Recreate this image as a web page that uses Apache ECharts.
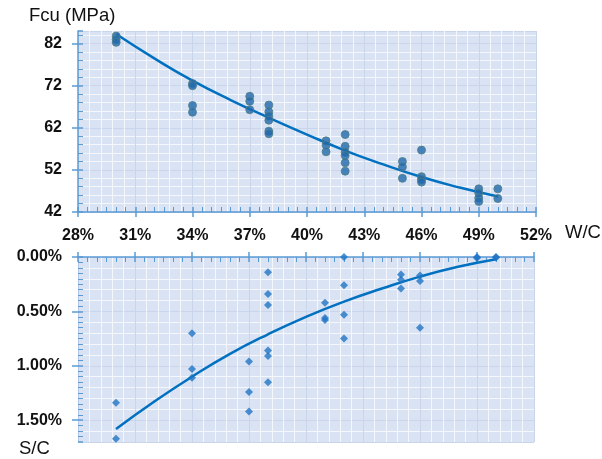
<!DOCTYPE html>
<html><head><meta charset="utf-8">
<script src="https://cdn.jsdelivr.net/npm/echarts@6/dist/echarts.min.js"></script>
<style>html,body{margin:0;padding:0;background:#fff}#c{width:602px;height:459px}</style>
</head><body><div id="c"></div>
<script>
// W/C ratio (%) tick labels
const xTicks = [28, 31, 34, 37, 40, 43, 46, 49, 52];
const fcuTicks = [42, 52, 62, 72, 82];
const scTicks = [0, 0.5, 1.0, 1.5];

// Top: compressive strength Fcu (MPa) vs W/C (%)
const fcuPoints = [
  [30, 83.8], [30, 83.0], [30, 82.3],
  [34, 72.5], [34, 72.0], [34, 67.3], [34, 65.7],
  [37, 69.5], [37, 68.3], [37, 66.3],
  [38, 67.4], [38, 65.8], [38, 64.8], [38, 63.8], [38, 61.2], [38, 60.6],
  [41, 58.9], [41, 57.9], [41, 56.3],
  [42, 60.4], [42, 57.6], [42, 56.2], [42, 55.4], [42, 53.7], [42, 51.7],
  [45, 54.0], [45, 52.7], [45, 50.0],
  [46, 56.7], [46, 50.4], [46, 49.7], [46, 49.1],
  [49, 47.5], [49, 46.5], [49, 45.3], [49, 44.5],
  [50, 47.5], [50, 45.2]
];
const fcuTrend = [
  [30, 84.3], [32, 78.5], [34, 73.2], [36, 68.6], [38, 64.4], [40, 60.4],
  [42, 56.6], [44, 53.3], [46, 50.3], [48, 47.8], [50, 45.7]
];

// Bottom: S/C (%) vs W/C (%)
const scPoints = [
  [30, 1.34], [30, 1.67],
  [34, 0.70], [34, 1.03], [34, 1.11],
  [37, 0.96], [37, 1.24], [37, 1.42],
  [38, 0.14], [38, 0.34], [38, 0.44], [38, 0.86], [38, 0.91], [38, 1.15],
  [41, 0.42], [41, 0.56], [41, 0.58],
  [42, 0.00], [42, 0.26], [42, 0.53], [42, 0.75],
  [45, 0.16], [45, 0.21], [45, 0.29],
  [46, 0.17], [46, 0.22], [46, 0.65],
  [49, 0.00], [49, 0.01],
  [50, 0.00], [50, 0.005]
];
const scTrend = [
  [30, 1.58], [32, 1.33], [34, 1.10], [36, 0.89], [38, 0.71], [40, 0.55],
  [42, 0.41], [44, 0.29], [46, 0.18], [48, 0.09], [50, 0.02]
];

const chart = echarts.init(document.getElementById('c'), null, {renderer: 'canvas'});
const axisBlue = '#5b9bd5';
const FONT = 'Liberation Sans, Arial, sans-serif';
const labelStyle = {color: '#111', fontWeight: 'bold', fontSize: 16, fontFamily: FONT};
const majorSplit = {show: true, lineStyle: {color: '#c9d5ea', width: 1}};
const minorSplit = {show: true, lineStyle: {color: '#f4f7fc', width: 1}};
const xMin = xTicks[0], xMax = xTicks[xTicks.length - 1], xInt = xTicks[1] - xTicks[0];

function xAxisCfg(gridIndex, position, showLabels) {
  return {
    type: 'value', gridIndex, position, min: xMin, max: xMax, interval: xInt,
    axisLine: {show: true, onZero: false, lineStyle: {color: axisBlue, width: 1.5}},
    axisTick: {show: true, length: 5, lineStyle: {color: axisBlue, width: 1.5}},
    minorTick: {show: false},
    axisLabel: {show: showLabels, margin: 16, formatter: v => v + '%', ...labelStyle},
    splitLine: majorSplit, minorSplitLine: minorSplit
  };
}
// overlay axes that draw the inner half of the ticks and the inner minor ticks
function xInner(gridIndex, position) {
  return {
    type: 'value', gridIndex, position, min: xMin, max: xMax, interval: xInt,
    axisLine: {show: false, onZero: false},
    axisTick: {show: true, inside: true, length: 5, lineStyle: {color: axisBlue, width: 1.5}},
    minorTick: {show: true, splitNumber: 6, length: 5, lineStyle: {color: axisBlue, width: 1}},
    axisLabel: {show: false}, splitLine: {show: false}, minorSplitLine: {show: false}
  };
}
function yInner(gridIndex, min, max, interval, split, inverse) {
  return {
    type: 'value', gridIndex, position: 'left', min, max, interval, inverse,
    axisLine: {show: false, onZero: false},
    axisTick: {show: true, inside: true, length: 5, lineStyle: {color: axisBlue, width: 1.5}},
    minorTick: {show: true, splitNumber: split, length: 5, lineStyle: {color: axisBlue, width: 1}},
    axisLabel: {show: false}, splitLine: {show: false}, minorSplitLine: {show: false}
  };
}

chart.setOption({
  animation: false,
  backgroundColor: '#ffffff',
  grid: [
    {left: 78, right: 66, top: 31, height: 181, backgroundColor: '#dae3f3', show: true, borderWidth: 0},
    {left: 78, right: 68, top: 257, bottom: 17, backgroundColor: '#dae3f3', show: true, borderWidth: 0}
  ],
  xAxis: [xAxisCfg(0, 'bottom', true), xAxisCfg(1, 'top', false), xInner(0, 'bottom'), xInner(1, 'top')],
  yAxis: [
    {
      type: 'value', gridIndex: 0, position: 'left', min: fcuTicks[0], max: 85, interval: fcuTicks[1] - fcuTicks[0],
      axisLine: {show: true, onZero: false, lineStyle: {color: axisBlue, width: 1.5}},
      axisTick: {show: true, length: 6, lineStyle: {color: axisBlue, width: 1.5}},
      minorTick: {show: false},
      axisLabel: {margin: 16, showMaxLabel: false, ...labelStyle},
      splitLine: majorSplit, minorSplitLine: minorSplit
    },
    {
      type: 'value', gridIndex: 1, position: 'left', inverse: true, min: scTicks[0], max: 1.7, interval: scTicks[1] - scTicks[0],
      axisLine: {show: true, onZero: false, lineStyle: {color: '#b4c7e7', width: 1}},
      axisTick: {show: true, length: 6, lineStyle: {color: axisBlue, width: 1.5}},
      minorTick: {show: false},
      axisLabel: {margin: 16, showMaxLabel: false, formatter: v => v.toFixed(2) + '%', ...labelStyle},
      splitLine: majorSplit, minorSplitLine: minorSplit
    },
    yInner(0, fcuTicks[0], 85, fcuTicks[1] - fcuTicks[0], 5, false),
    yInner(1, scTicks[0], 1.7, scTicks[1] - scTicks[0], 10, true)
  ],
  graphic: [
    {type: 'text', left: 29, top: 6, style: {text: 'Fcu (MPa)', fontSize: 18.5, fill: '#111', fontFamily: FONT}},
    {type: 'text', left: 565, top: 223, style: {text: 'W/C', fontSize: 18.5, fill: '#111', fontFamily: FONT}},
    {type: 'text', left: 19, top: 439, style: {text: 'S/C', fontSize: 18.5, fill: '#111', fontFamily: FONT}}
  ],
  series: [
    {type: 'line', xAxisIndex: 0, yAxisIndex: 0, data: fcuTrend, smooth: true, symbol: 'none',
     lineStyle: {color: '#0070c0', width: 2.5}, z: 3},
    {type: 'scatter', xAxisIndex: 0, yAxisIndex: 0, data: fcuPoints, symbol: 'circle', symbolSize: 8,
     itemStyle: {color: '#1f68ad', borderColor: '#4f7f86', borderWidth: 1}, z: 4},
    {type: 'line', xAxisIndex: 1, yAxisIndex: 1, data: scTrend, smooth: true, symbol: 'none',
     lineStyle: {color: '#0070c0', width: 2.5}, z: 3},
    {type: 'scatter', xAxisIndex: 1, yAxisIndex: 1, data: scPoints, symbol: 'diamond', symbolSize: 8,
     itemStyle: {color: '#1f74c4'}, z: 4}
  ]
});
</script></body></html>
